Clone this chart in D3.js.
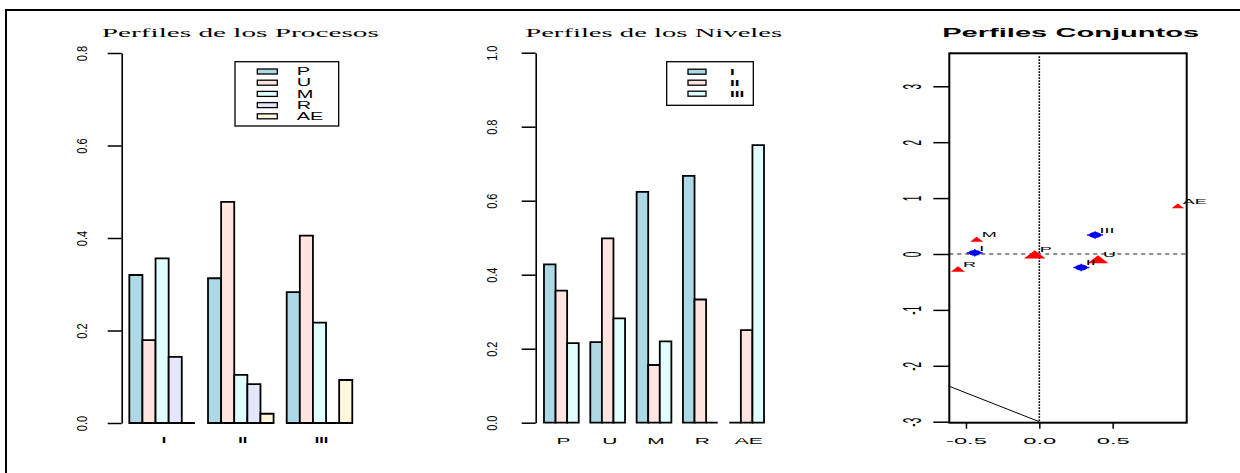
<!DOCTYPE html>
<html>
<head>
<meta charset="utf-8">
<script src="https://cdn.jsdelivr.net/npm/d3@7"></script>
<style>
  body { margin: 0; background: #fff; }
</style>
</head>
<body>
<div id="chart"></div>
<script>

// categorias
var procesos = ["P", "U", "M", "R", "AE"];
var niveles = ["I", "II", "III"];
var colores = ["lightblue", "mistyrose", "lightcyan", "lavender", "cornsilk"];

// perfiles de los procesos (cada proceso dentro de cada nivel I, II, III)
var perfilP  = [0.320, 0.313, 0.283];
var perfilU  = [0.179, 0.478, 0.405];
var perfilM  = [0.356, 0.104, 0.217];
var perfilR  = [0.143, 0.084, 0.000];
var perfilAE = [0.000, 0.020, 0.093];
var ticksProcesos = [0, 0.2, 0.4, 0.6, 0.8];

// perfiles de los niveles (cada nivel dentro de cada proceso P, U, M, R, AE)
var perfilI   = [0.428, 0.218, 0.624, 0.667, 0.000];
var perfilII  = [0.357, 0.498, 0.156, 0.333, 0.250];
var perfilIII = [0.215, 0.282, 0.220, 0.000, 0.750];
var ticksNiveles = [0, 0.2, 0.4, 0.6, 0.8, 1.0];

// perfiles conjuntos (coordenadas y masas)
var procX = [-0.031, 0.400, -0.427, -0.554, 0.944];
var procY = [-0.009, -0.095, 0.263, -0.268, 0.862];
var masaProc = [0.33, 0.30, 0.12, 0.14, 0.11];
var nivX = [-0.440, 0.286, 0.380];
var nivY = [0.021, -0.242, 0.340];
var ticksConjX = [-0.5, 0, 0.5];
var ticksConjY = [-3, -2, -1, 0, 1, 2, 3];
var segX = [-0.62, 0];
var segY = [-2.36, -3];

var sans = "Liberation Sans, Arial, sans-serif";
var serif = "Liberation Serif, Times New Roman, serif";

var svg = d3.select("#chart").append("svg")
    .attr("width", 1240)
    .attr("height", 473);

// marco
svg.append("path")
    .attr("d", "M6,473V10H1240")
    .attr("fill", "none")
    .attr("stroke", "black")
    .attr("stroke-width", 2);

// texto estirado en horizontal
function texto(g, x, y, s, sx, size, anchor) {
  return g.append("text")
      .attr("transform", "translate(" + x + "," + y + ") scale(" + sx + ",1)")
      .attr("text-anchor", anchor || "middle")
      .attr("font-size", size)
      .attr("font-family", sans)
      .attr("fill", "black")
      .text(s);
}

function barra(x, w, y0, y1) {
  return "M" + x + "," + y0 + "V" + y1 + "H" + (x + w) + "V" + y0 + "Z";
}

function ejeY(g, axis, bx, sx, size) {
  g.call(axis);
  g.select(".domain").attr("stroke-width", 1.6);
  g.selectAll(".tick line").attr("stroke-width", 1.5);
  g.selectAll(".tick text")
      .attr("x", null).attr("dy", null)
      .attr("text-anchor", "middle")
      .attr("font-size", size)
      .attr("font-family", sans)
      .attr("transform", "translate(" + bx + ",0) scale(" + sx + ",1) rotate(-90)");
}

// ---------- Perfiles de los Procesos ----------
var series1 = [perfilP, perfilU, perfilM, perfilR, perfilAE];
var y1 = d3.scaleLinear().domain([0, 0.8]).range([423, 53]);
var x1 = d3.scaleBand().domain(niveles).range([116.2, 365.4])
    .paddingInner(1 / 6).paddingOuter(1 / 6);
var x1s = d3.scaleBand().domain(procesos).range([0, x1.bandwidth()]);
var g1 = svg.append("g");

niveles.forEach(function(n, j) {
  g1.selectAll(null)
    .data(procesos)
    .enter()
    .append("path")
      .attr("d", function(d, i) {
        return barra(x1(n) + x1s(d), x1s.bandwidth(), y1(0), y1(series1[i][j]));
      })
      .attr("fill", function(d, i) { return colores[i]; })
      .attr("stroke", "black")
      .attr("stroke-width", 1.8);
  texto(g1, x1(n) + x1.bandwidth() / 2 + 2, 443.3, n, 1.8, 9).attr("font-weight", "bold");
});

ejeY(g1.append("g").attr("transform", "translate(121.7,0)"),
     d3.axisLeft(y1).tickValues(ticksProcesos).tickSize(14).tickSizeOuter(0)
       .tickFormat(function(d) { return d.toFixed(1); }),
     -34.6, 1.3, 11);

texto(g1, 240.3, 37.3, "Perfiles de los Procesos", 1, 13)
    .attr("font-family", serif)
    .attr("textLength", 277)
    .attr("lengthAdjust", "spacingAndGlyphs");

// leyenda
g1.append("rect")
    .attr("x", 235).attr("y", 61.7).attr("width", 103.7).attr("height", 64.3)
    .attr("fill", "white").attr("stroke", "black").attr("stroke-width", 1.3);
procesos.forEach(function(p, i) {
  var cy = 71.5 + i * 11.2;
  g1.append("rect")
      .attr("x", 257.3).attr("y", cy - 2.5).attr("width", 20).attr("height", 5)
      .attr("fill", colores[i]).attr("stroke", "black").attr("stroke-width", 1.3);
  texto(g1, 296.7, cy + 3.6, p, 1.9, 10.5, "start");
});

// ---------- Perfiles de los Niveles ----------
var series2 = [perfilI, perfilII, perfilIII];
var y2 = d3.scaleLinear().domain([0, 1]).range([422.7, 52.7]);
var x2 = d3.scaleBand().domain(procesos).range([532.4, 775.6])
    .paddingInner(0.25).paddingOuter(0.25);
var x2s = d3.scaleBand().domain(niveles).range([0, x2.bandwidth()]);
var g2 = svg.append("g");

procesos.forEach(function(p, j) {
  g2.selectAll(null)
    .data(niveles)
    .enter()
    .append("path")
      .attr("d", function(d, i) {
        return barra(x2(p) + x2s(d), x2s.bandwidth(), y2(0), y2(series2[i][j]));
      })
      .attr("fill", function(d, i) { return colores[i]; })
      .attr("stroke", "black")
      .attr("stroke-width", 1.8);
  texto(g2, x2(p) + x2.bandwidth() / 2 + 2, 444, p, 2.2, 9.5);
});

ejeY(g2.append("g").attr("transform", "translate(535.7,0)"),
     d3.axisLeft(y2).tickValues(ticksNiveles).tickSize(14).tickSizeOuter(0)
       .tickFormat(function(d) { return d.toFixed(1); }),
     -38.3, 1.3, 11);

texto(g2, 653.7, 37.3, "Perfiles de los Niveles", 1, 13)
    .attr("font-family", serif)
    .attr("textLength", 257)
    .attr("lengthAdjust", "spacingAndGlyphs");

g2.append("rect")
    .attr("x", 666.7).attr("y", 61.7).attr("width", 86.6).attr("height", 43.6)
    .attr("fill", "white").attr("stroke", "black").attr("stroke-width", 1.3);
niveles.forEach(function(n, i) {
  var cy = 71.7 + i * 11;
  g2.append("rect")
      .attr("x", 688).attr("y", cy - 2.5).attr("width", 18).attr("height", 5)
      .attr("fill", colores[i]).attr("stroke", "black").attr("stroke-width", 1.3);
  texto(g2, 730, cy + 3.5, n, 1.8, 9.5, "start").attr("font-weight", "bold");
});

// ---------- Perfiles Conjuntos ----------
var x3 = d3.scaleLinear().domain([-0.6135, 1.0045]).range([949.3, 1186.7]);
var y3 = d3.scaleLinear().domain([-3.018, 3.59]).range([422.7, 53.3]);
var g3 = svg.append("g");

// lineas de referencia
g3.append("line")
    .attr("x1", x3.range()[0]).attr("x2", x3.range()[1])
    .attr("y1", y3(0)).attr("y2", y3(0))
    .attr("stroke", "#8a8a8a").attr("stroke-width", 2)
    .attr("stroke-dasharray", "4,4");
g3.append("line")
    .attr("x1", x3(0)).attr("x2", x3(0))
    .attr("y1", y3.range()[1] + 3).attr("y2", y3.range()[0])
    .attr("stroke", "black").attr("stroke-width", 1.6)
    .attr("stroke-dasharray", "1.6,1.4");
g3.append("line")
    .attr("x1", x3(segX[0])).attr("y1", y3(segY[0]))
    .attr("x2", x3(segX[1])).attr("y2", y3(segY[1]))
    .attr("stroke", "black").attr("stroke-width", 1);

// caja
g3.append("rect")
    .attr("x", x3.range()[0]).attr("y", y3.range()[1])
    .attr("width", x3.range()[1] - x3.range()[0])
    .attr("height", y3.range()[0] - y3.range()[1])
    .attr("fill", "none").attr("stroke", "black").attr("stroke-width", 2);

var ax = g3.append("g").attr("transform", "translate(0," + y3.range()[0] + ")")
    .call(d3.axisBottom(x3).tickValues(ticksConjX).tickSize(6).tickSizeOuter(0)
      .tickFormat(function(d) { return d.toFixed(1); }));
ax.select(".domain").remove();
ax.selectAll(".tick line").attr("stroke-width", 1.5);
ax.selectAll(".tick text")
    .attr("y", null).attr("dy", null)
    .attr("font-size", 9.5)
    .attr("font-family", sans)
    .attr("transform", "translate(0,21.3) scale(2.5,1)");

var ay = g3.append("g").attr("transform", "translate(" + x3.range()[0] + ",0)");
ejeY(ay, d3.axisLeft(y3).tickValues(ticksConjY).tickSize(16).tickSizeOuter(0)
       .tickFormat(function(d) { return String(d); }),
     -28.5, 2.5, 10);
ay.select(".domain").remove();

// procesos: triangulos rojos segun masa
var ancho = d3.scaleSqrt().domain([0, d3.max(masaProc)]).range([0, 21.7]);
g3.selectAll(".proc")
  .data(procesos)
  .enter()
  .append("path")
    .attr("class", "proc")
    .attr("d", function(d, i) {
      var cx = x3(procX[i]), cy = y3(procY[i]);
      var w = ancho(masaProc[i]), h = w * 0.38;
      return "M" + (cx - w / 2) + "," + (cy + h / 2) + "L" + (cx + w / 2) + "," + (cy + h / 2) +
             "L" + cx + "," + (cy - h / 2) + "Z";
    })
    .attr("fill", "red");

// niveles: puntos azules
var niv = g3.selectAll(".niv")
  .data(niveles)
  .enter()
  .append("g")
    .attr("class", "niv")
    .attr("transform", function(d, i) {
      return "translate(" + x3(nivX[i]) + "," + y3(nivY[i]) + ")";
    });
niv.append("ellipse").attr("rx", 6.3).attr("ry", 2.9).attr("fill", "blue");
niv.append("line").attr("x1", -8).attr("x2", 8)
    .attr("stroke", "blue").attr("stroke-width", 1.4);
niv.append("line").attr("y1", -3.8).attr("y2", 3.8)
    .attr("stroke", "blue").attr("stroke-width", 1.4);

// etiquetas
procesos.forEach(function(p, i) {
  texto(g3, x3(procX[i]) + 5, y3(procY[i]) - 2.2, p, 2.5, 7.2, "start");
});
niveles.forEach(function(n, i) {
  texto(g3, x3(nivX[i]) + 4.5, y3(nivY[i]) - 2.2, n, 2.5, 7.2, "start");
});

texto(g3, 1070.7, 37.3, "Perfiles Conjuntos", 1, 13)
    .attr("font-weight", "bold")
    .attr("textLength", 257)
    .attr("lengthAdjust", "spacingAndGlyphs");

</script>
</body>
</html>
